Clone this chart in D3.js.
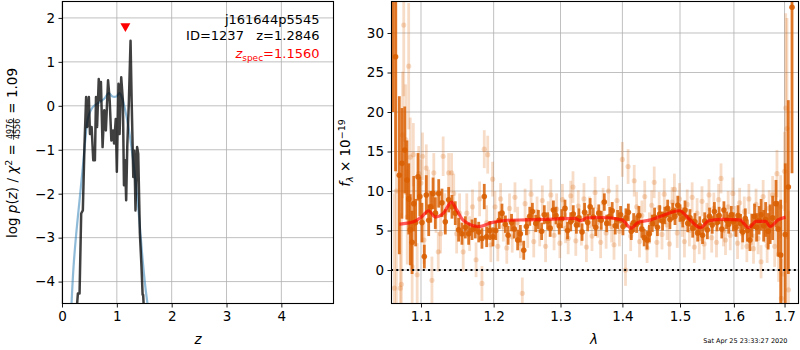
<!DOCTYPE html>
<html><head><meta charset="utf-8">
<script src="https://cdn.jsdelivr.net/npm/d3@7/dist/d3.min.js"></script>
<style>body{margin:0;background:#fff;} text{font-family:"DejaVu Sans",sans-serif;}</style>
</head><body><svg id="c" width="800" height="350"></svg>
<script>
// ---------- data: left panel p(z) ----------
const pzZ = [0.27,0.29,0.32,0.35,0.38,0.41,0.44,0.46,0.49,0.51,0.54,0.57,0.60,0.62,0.64,0.67,0.70,0.71,0.74,0.77,0.80,0.84,0.87,0.90,0.93,0.95,0.98,1.00,1.03,1.05,1.08,1.11,1.13,1.15,1.17,1.19,1.22,1.25,1.27,1.30,1.32,1.34,1.37,1.39,1.42,1.45,1.47,1.48,1.50];
const pzLog = [-4.6,-4.27,-4.27,-2.45,-2.38,-0.9,0.2,-0.48,0.2,-0.64,-0.48,-1.24,-1.24,0.2,-0.48,0.61,0.12,0.54,-0.94,-0.1,-0.56,0.58,0.12,-0.79,-0.56,-0.86,-0.3,-1.5,0.5,-0.64,0.65,0.12,-1.81,-1.24,-2.15,-0.94,0.12,1.48,0.12,-1.62,-1.02,-2.38,-0.94,-1.09,-2.9,-3.67,-4.3,-4.3,-4.8];
const smoothZ = [0.17,0.21,0.26,0.32,0.38,0.43,0.47,0.56,0.68,0.77,0.85,0.92,0.99,1.05,1.11,1.19,1.25,1.34,1.40,1.46,1.52,1.57];
const smoothLog = [-4.6,-3.67,-2.9,-2.15,-1.39,-0.71,-0.3,-0.03,0.08,0.16,0.29,0.21,0.21,0.29,0.12,-0.33,-0.79,-1.7,-2.45,-3.36,-4.12,-4.6];
const zTicks = [0,1,2,3,4];
const logpTicks = [-4,-3,-2,-1,0,1,2];
const zSpec = 1.156;
const zSpecMarkerY = 1.78;
const annotLines = ["j161644p5545", "ID=1237\u00a0\u00a0\u00a0z=1.2846"];

// ---------- data: right panel spectrum ----------
const lamTicks = [1.1,1.2,1.3,1.4,1.5,1.6,1.7];
const fluxTicks = [0,5,10,15,20,25,30];
const modelLam = [1.072,1.090,1.101,1.110,1.119,1.130,1.141,1.148,1.157,1.179,1.197,1.220,1.248,1.291,1.322,1.331,1.342,1.366,1.399,1.415,1.426,1.448,1.462,1.499,1.518,1.537,1.553,1.580,1.611,1.629,1.643,1.662,1.671,1.687,1.702];
const modelFlux = [5.8,6.1,6.75,7.5,6.7,7.2,8.6,7.6,6.3,5.5,6.0,6.3,6.35,6.45,6.55,6.25,6.6,6.65,6.35,5.3,6.0,6.35,6.7,7.5,6.35,5.35,6.25,6.4,6.35,5.35,6.15,6.15,5.5,6.35,6.7];

const darkLam = [1.0635,1.0670,1.0718,1.0752,1.0788,1.0817,1.0840,1.0860,1.0883,1.0905,1.0930,1.0961,1.0985,1.1013,1.1044,1.1070,1.1102,1.1130,1.1160,1.1190,1.1236,1.1280,1.1325,1.1371,1.1416,1.1461,1.1507,1.1553,1.1600,1.1646,1.1693,1.1739,1.1787,1.1833,1.1866,1.1900,1.1945,
1.199,1.203,1.208,1.212,1.217,1.221,1.226,1.230,1.235,1.239,1.244,1.248,1.253,1.257,1.262,1.266,1.271,1.275,1.280,1.284,1.289,1.293,1.298,1.302,1.307,1.311,1.316,1.320,1.325,1.329,1.334,1.338,1.343,1.347,1.352,1.356,1.361,1.365,1.370,1.374,1.379,1.383,1.388,1.392,1.397,1.401,1.406,1.410,1.415,1.419,1.424,1.428,1.433,1.437,1.442,1.446,1.451,1.455,1.460,1.464,1.469,1.473,1.478,1.482,1.487,1.491,1.496,1.500,1.505,1.509,1.514,1.518,1.523,1.527,1.532,1.536,1.541,1.545,1.550,1.554,1.559,1.563,1.568,1.572,1.577,1.581,1.586,1.590,1.595,1.599,1.604,1.608,1.613,1.617,1.622,1.626,1.631,1.635,1.640,1.644,1.649,1.653,1.658,1.662,1.667,1.671,1.676,1.6827,1.6870,1.6922,1.7015,1.7077,1.7153];
const darkFlux = [40,27,12.0,13.5,15.2,11.4,9.0,5.1,3.5,8.4,6.0,11.8,9.3,6.0,1.7,9.5,6.3,8.0,9.7,7.2,9.7,8.5,6.1,8.9,8.0,7.2,5.1,4.6,5.4,4.6,5.1,5.3,4.8,4.0,9.3,4.2,5.0,
4.2,5.0,6.3,7.2,5.8,4.4,6.0,5.2,3.8,4.6,2.5,5.5,6.8,7.4,5.9,6.4,4.9,7.0,6.2,5.3,7.6,6.9,5.6,6.5,7.8,5.0,6.1,7.1,5.7,6.6,4.8,7.3,6.0,8.0,6.7,5.4,7.2,6.3,8.6,5.9,6.8,7.5,5.6,6.4,7.0,5.5,6.6,7.3,4.9,6.0,5.8,6.9,5.2,4.1,3.8,4.6,5.9,6.7,5.4,7.1,6.2,6.9,7.8,6.4,7.4,6.8,8.2,7.2,6.5,7.6,5.9,6.6,5.3,6.1,4.7,5.6,4.4,6.2,5.1,6.8,5.7,7.4,6.0,6.9,5.2,7.6,6.3,5.8,7.0,6.1,5.4,6.9,5.9,4.8,6.5,5.0,3.8,5.6,6.8,5.4,6.3,7.0,5.6,6.4,4.9,5.8,6.6,8.4,5.2,1.9,4.5,10.5,33.25];
const darkErr = [20,14.5,10,7,5.5,5,4.5,4.5,4,3.5,3,3,2.5,2.5,1.5,2.5,2,2,2,2,1.8,1.8,1.6,1.6,1.5,1.5,1.5,1.4,1.4,1.4,1.3,1.3,1.3,1.3,1.6,1.3,1.2,
1.2,1.2,1.1,1.2,1.1,1.2,1.1,1.2,1.3,1.1,
1.2,1.1,1.2,1.1,1.1,1.2,1.1,1.2,1.1,1.1,
1.2,1.1,1.1,1.2,1.1,1.1,1.2,1.1,1.1,1.2,
1.1,1.2,1.1,1.1,1.2,1.1,1.1,1.2,1.1,1.1,
1.2,1.1,1.1,1.2,1.1,1.1,1.2,1.1,1.1,1.2,
1.1,1.2,1.1,1.1,1.2,1.1,1.1,1.2,1.1,1.1,
1.2,1.1,1.1,1.2,1.1,1.1,1.2,1.1,1.1,1.2,
1.1,1.1,1.2,1.1,1.1,1.2,1.1,1.1,1.2,1.1,
1.1,1.2,1.1,1.1,1.2,1.1,1.1,1.2,1.1,1.2,
1.2,1.3,1.2,1.3,1.3,1.4,1.4,1.5,1.6,1.8,
1.8,2.0,2.0,2.2,2.3,2.5,2.8,
3,3.5,7,9,11,21];

const lightLam = [1.0655,1.0680,1.0731,1.0745,1.0760,1.0775,1.0800,1.0820,1.0839,1.0860,1.0884,1.0900,1.0950,1.0970,1.1000,1.1020,1.1040,1.1070,1.1100,1.1145,1.1170,1.1200,1.1230,1.1260,1.1296,1.1320,1.1370,1.1410,1.1440,1.1480,1.1520,1.1570,1.1620,1.1660,1.1700,1.1750,1.1800,1.1833,1.1866,1.1900,1.1915,1.1960,1.1985,
1.2020,1.2060,1.2100,1.2140,1.2190,1.2230,1.2270,1.2310,1.2350,1.2390,1.2419,1.2460,1.2500,1.2550,1.2590,1.2640,1.2680,1.2720,1.2770,1.2810,1.2850,1.2900,1.2940,1.2990,1.3030,1.3080,1.3120,1.3160,1.3196,1.3240,1.3280,1.3330,1.3370,1.3410,1.3460,1.3500,1.3550,1.3590,1.3640,1.3680,1.3730,1.3770,1.3820,1.3860,1.3910,1.3950,1.3999,1.4052,1.4096,1.4140,1.4200,1.4240,1.4290,1.4330,1.4380,1.4420,1.4460,1.4500,1.4544,1.4590,1.4630,1.4680,1.4720,1.4770,1.4810,1.4860,1.4900,1.4950,1.4990,1.5040,1.5080,1.5130,1.5170,1.5220,1.5260,1.5310,1.5350,1.5400,1.5440,1.5490,1.5530,1.5580,1.5620,1.5670,1.5710,1.5755,1.5800,1.5840,1.5890,1.5930,1.5980,1.6020,1.6070,1.6110,1.6160,1.6200,1.6250,1.6290,1.6340,1.6380,1.6430,1.6470,1.6529,1.6570,1.6610,1.6650,1.6690,1.6760,1.6800,1.6847,1.6880,1.6920,1.6935,1.6960,1.7000,1.7024,1.7050,1.7080];
const lightFlux = [-2.3,10,-2.3,-1.8,17.1,31.0,16.5,6.7,25.8,14.3,0.4,14.6,-0.6,12.2,11.0,14.4,3.8,12.9,9.7,-1.3,12.3,7.2,2.3,4.6,14.4,7.2,12.3,12.3,9.7,4.6,7.2,2.3,7.2,4.6,8.0,1.3,9.0,-1.7,15.3,6.0,14.6,3.2,11.5,
8.0,3.0,9.0,5.5,2.8,7.8,4.2,9.2,6.0,3.4,-2.95,8.4,4.8,9.6,3.6,7.4,5.0,8.8,3.0,6.8,9.5,4.4,7.7,3.4,8.9,5.3,4.0,9.4,10.5,3.7,8.1,5.0,9.0,2.9,7.3,4.3,9.8,6.0,3.5,8.5,4.7,10.0,5.5,3.2,8.8,4.9,14.0,0.0,13.1,4.3,11.3,8.0,3.6,6.9,9.3,2.8,5.3,8.2,11.1,3.5,7.9,4.5,9.6,5.7,3.3,8.6,10.2,4.7,9.0,6.1,3.6,8.3,5.0,9.2,2.9,7.2,4.0,8.7,3.3,6.6,9.5,4.1,7.8,3.5,8.9,11.6,5.0,3.8,8.0,4.4,9.7,6.2,3.4,8.5,4.6,7.4,3.0,9.0,5.2,2.7,8.3,4.0,1.05,9.3,5.6,3.1,7.8,9.5,3.0,12.2,2.0,8.0,-3.6,-0.5,12.5,20.5,17.9,-2.5];
const lightErr = [12,25,8,9,8,9,7,6,8,5,
5,4,4,3.5,3,3,3,3,3,3,
2.5,2.5,2.5,2.5,2.5,2.5,2.5,2.5,2.5,2.5,
2.5,2.5,2.5,2.2,2.2,2.2,2.2,2.2,2.4,2.2,
2.4,2.2,2.2,
2.0,1.9,2.0,1.9,2.0,1.9,2.0,1.9,2.0,1.9,
2.0,1.9,2.0,1.9,2.0,1.9,2.0,1.9,2.0,1.9,
2.0,1.9,2.0,1.9,2.0,1.9,2.0,1.9,2.0,1.9,
2.0,1.9,2.0,1.9,2.0,1.9,2.0,1.9,2.0,1.9,
2.0,1.9,2.0,1.9,2.0,1.9,2.2,2.0,2.2,1.9,
2.0,1.9,2.0,1.9,2.0,1.9,2.0,1.9,2.0,1.9,
2.0,1.9,2.0,1.9,2.0,1.9,2.0,1.9,2.0,1.9,
2.0,1.9,2.0,1.9,2.0,1.9,2.0,1.9,2.0,1.9,
2.0,1.9,2.0,1.9,2.0,1.9,2.0,1.9,2.0,1.9,
2.0,1.9,2.0,1.9,2.0,1.9,2.0,1.9,2.0,1.9,
2.0,2.0,2.1,2.1,2.2,2.2,2.3,2.4,2.6,3.0,
3.5,4,5,7,5,12,14,10];

const dateText = "Sat Apr 25 23:33:27 2020";

// ---------- drawing ----------
const svg = d3.select("#c");
const gridColor = "#b0b0b0";
const orange = "#d95f02";

function styleAxis(g){
  g.select(".domain").remove();
  g.selectAll(".tick line").attr("stroke","#000").attr("stroke-width",0.9);
  g.selectAll(".tick text").attr("font-size",13.5).attr("fill","#000").attr("font-family","DejaVu Sans");
}
const minus = s => String(s).replace("-","\u2212");

// ===== LEFT PANEL =====
const L = {x0:62, x1:334, y0:1, y1:304};
const xL = d3.scaleLinear().domain([0,4.96]).range([L.x0,L.x1]);
const yL = d3.scaleLinear().domain([-4.51,2.385]).range([L.y1,L.y0]);
svg.append("clipPath").attr("id","clipL").append("rect").attr("x",L.x0).attr("y",L.y0).attr("width",L.x1-L.x0).attr("height",L.y1-L.y0);
const gl = svg.append("g");
gl.selectAll("line.gx").data(zTicks).join("line").attr("class","gx").attr("x1",d=>xL(d)).attr("x2",d=>xL(d)).attr("y1",L.y0).attr("y2",L.y1).attr("stroke",gridColor).attr("stroke-width",0.8);
gl.selectAll("line.gy").data(logpTicks).join("line").attr("class","gy").attr("y1",d=>yL(d)).attr("y2",d=>yL(d)).attr("x1",L.x0).attr("x2",L.x1).attr("stroke",gridColor).attr("stroke-width",0.8);
const dl = gl.append("g").attr("clip-path","url(#clipL)");
dl.append("path").datum(smoothZ.map((z,i)=>[z,smoothLog[i]]))
  .attr("d",d3.line().x(d=>xL(d[0])).y(d=>yL(d[1])).curve(d3.curveCatmullRom))
  .attr("fill","none").attr("stroke","#1f77b4").attr("stroke-opacity",0.5).attr("stroke-width",2.2);
dl.append("path").datum(pzZ.map((z,i)=>[z,pzLog[i]]))
  .attr("d",d3.line().x(d=>xL(d[0])).y(d=>yL(d[1])))
  .attr("fill","none").attr("stroke","#000").attr("stroke-opacity",0.75).attr("stroke-width",2.5).attr("stroke-linejoin","round");
const mx = xL(zSpec), my = yL(zSpecMarkerY);
gl.append("path").attr("d",`M${mx-5},${my-4.3}L${mx+5},${my-4.3}L${mx},${my+4.4}Z`).attr("fill","red");
gl.append("text").attr("x",319.5).attr("y",24).attr("text-anchor","end").attr("font-size",13).text(annotLines[0]);
gl.append("text").attr("x",319.5).attr("y",39.5).attr("text-anchor","end").attr("font-size",13).text(annotLines[1]);
const zs = gl.append("text").attr("x",319.5).attr("y",58).attr("text-anchor","end").attr("font-size",13).attr("fill","red");
zs.append("tspan").attr("font-style","italic").text("z");
zs.append("tspan").attr("font-size",9).attr("dy",3).text("spec");
zs.append("tspan").attr("dy",-3).text("=" + zSpec.toFixed(4));
const axLx = gl.append("g").attr("transform",`translate(0,${L.y1})`).call(d3.axisBottom(xL).tickValues(zTicks).tickSizeInner(3.5).tickSizeOuter(0).tickPadding(3.5).tickFormat(d3.format("d")));
styleAxis(axLx);
const axLy = gl.append("g").attr("transform",`translate(${L.x0},0)`).call(d3.axisLeft(yL).tickValues(logpTicks).tickSizeInner(3.5).tickSizeOuter(0).tickPadding(3.5).tickFormat(d=>minus(d)));
styleAxis(axLy);
gl.append("rect").attr("x",L.x0+0.5).attr("y",L.y0+0.5).attr("width",L.x1-L.x0-1).attr("height",L.y1-L.y0-1).attr("fill","none").attr("stroke","#000").attr("stroke-width",1.1);
gl.append("text").attr("x",(L.x0+L.x1)/2).attr("y",344).attr("text-anchor","middle").attr("font-size",13.5).attr("font-style","italic").text("z");
// rotated y label with stacked fraction
const yl = gl.append("g").attr("transform","translate(0,153) rotate(-90)");
const t1 = yl.append("text").attr("y",17).attr("font-size",13.5);
t1.append("tspan").text("log\u00a0");
t1.append("tspan").attr("font-style","italic").text("p");
t1.append("tspan").text("(");
t1.append("tspan").attr("font-style","italic").text("z");
t1.append("tspan").text(")\u00a0/\u00a0");
t1.append("tspan").attr("font-style","italic").text("\u03c7");
t1.append("tspan").attr("font-size",9.5).attr("dy",-5).text("2");
t1.append("tspan").attr("dy",5).text("\u00a0=\u00a0");
const w1 = t1.node().getComputedTextLength();
const num = yl.append("text").attr("y",12.6).attr("font-size",8).attr("text-anchor","middle").text("4976");
const den = yl.append("text").attr("y",20.2).attr("font-size",8).attr("text-anchor","middle").text("4556");
const wf = Math.max(num.node().getComputedTextLength(), den.node().getComputedTextLength()) + 1.5;
const t2 = yl.append("text").attr("y",17).attr("font-size",13.5).text("\u00a0=\u00a01.09");
const w2 = t2.node().getComputedTextLength();
const total = w1 + wf + w2;
const sx = -total/2;
t1.attr("x",sx);
num.attr("x",sx + w1 + wf/2); den.attr("x",sx + w1 + wf/2);
yl.append("line").attr("x1",sx+w1).attr("x2",sx+w1+wf).attr("y1",13.6).attr("y2",13.6).attr("stroke","#000").attr("stroke-width",0.7);
t2.attr("x",sx + w1 + wf);

// ===== RIGHT PANEL =====
const R = {x0:391, x1:799, y0:1, y1:304};
const xR = d3.scaleLog().domain([1.0612,1.7297]).range([R.x0,R.x1]);
const yR = d3.scaleLinear().domain([-4.3,34.05]).range([R.y1,R.y0]);
svg.append("clipPath").attr("id","clipR").append("rect").attr("x",R.x0).attr("y",R.y0).attr("width",R.x1-R.x0).attr("height",R.y1-R.y0);
const gr = svg.append("g");
gr.selectAll("line.gx").data(lamTicks).join("line").attr("class","gx").attr("x1",d=>xR(d)).attr("x2",d=>xR(d)).attr("y1",R.y0).attr("y2",R.y1).attr("stroke",gridColor).attr("stroke-width",0.8);
gr.selectAll("line.gy").data(fluxTicks).join("line").attr("class","gy").attr("y1",d=>yR(d)).attr("y2",d=>yR(d)).attr("x1",R.x0).attr("x2",R.x1).attr("stroke",gridColor).attr("stroke-width",0.8);
const dr = gr.append("g").attr("clip-path","url(#clipR)");
const light = lightLam.map((l,i)=>({l, f:lightFlux[i], e:lightErr[i]}));
const dark = darkLam.map((l,i)=>({l, f:darkFlux[i], e:darkErr[i]}));
const lg = dr.append("g");
lg.selectAll("line").data(light).join("line").attr("x1",d=>xR(d.l)).attr("x2",d=>xR(d.l)).attr("y1",d=>yR(d.f-d.e)).attr("y2",d=>yR(d.f+d.e)).attr("stroke",orange).attr("stroke-opacity",0.22).attr("stroke-width",2.8);
lg.selectAll("circle").data(light).join("circle").attr("cx",d=>xR(d.l)).attr("cy",d=>yR(d.f)).attr("r",2.6).attr("fill",orange).attr("fill-opacity",0.22);
const dg = dr.append("g");
dg.selectAll("line").data(dark).join("line").attr("x1",d=>xR(d.l)).attr("x2",d=>xR(d.l)).attr("y1",d=>yR(d.f-d.e)).attr("y2",d=>yR(d.f+d.e)).attr("stroke",orange).attr("stroke-opacity",0.85).attr("stroke-width",2.8);
dg.selectAll("circle").data(dark).join("circle").attr("cx",d=>xR(d.l)).attr("cy",d=>yR(d.f)).attr("r",2.8).attr("fill",orange).attr("fill-opacity",0.9);
dr.append("path").datum(modelLam.map((l,i)=>[l,modelFlux[i]]))
  .attr("d",d3.line().x(d=>xR(d[0])).y(d=>yR(d[1])).curve(d3.curveMonotoneX))
  .attr("fill","none").attr("stroke","red").attr("stroke-opacity",0.65).attr("stroke-width",3.2);
dr.append("line").attr("x1",R.x0).attr("x2",R.x1).attr("y1",yR(0)).attr("y2",yR(0)).attr("stroke","#000").attr("stroke-width",2).attr("stroke-dasharray","2,3.3");
const axRx = gr.append("g").attr("transform",`translate(0,${R.y1})`).call(d3.axisBottom(xR).tickValues(lamTicks).tickSizeInner(3.5).tickSizeOuter(0).tickPadding(3.5).tickFormat(d3.format(".1f")));
styleAxis(axRx);
const axRy = gr.append("g").attr("transform",`translate(${R.x0},0)`).call(d3.axisLeft(yR).tickValues(fluxTicks).tickSizeInner(3.5).tickSizeOuter(0).tickPadding(3.5).tickFormat(d3.format("d")));
styleAxis(axRy);
gr.append("rect").attr("x",R.x0+0.5).attr("y",R.y0+0.5).attr("width",R.x1-R.x0-1).attr("height",R.y1-R.y0-1).attr("fill","none").attr("stroke","#000").attr("stroke-width",1.1);
gr.append("text").attr("x",594).attr("y",344).attr("text-anchor","middle").attr("font-size",13.5).attr("font-style","italic").text("\u03bb");
const yr = gr.append("g").attr("transform","translate(350,153) rotate(-90)");
const ft = yr.append("text").attr("text-anchor","middle").attr("font-size",13.5);
ft.append("tspan").attr("font-style","italic").text("f");
ft.append("tspan").attr("font-style","italic").attr("font-size",9.5).attr("dy",3).text("\u03bb");
ft.append("tspan").attr("dy",-3).text("\u00a0\u00d7\u00a010");
ft.append("tspan").attr("font-size",9.5).attr("dy",-5.5).text("\u221219");
svg.append("text").attr("x",787.5).attr("y",342.5).attr("text-anchor","end").attr("font-size",6.5).text(dateText);
</script></body></html>
